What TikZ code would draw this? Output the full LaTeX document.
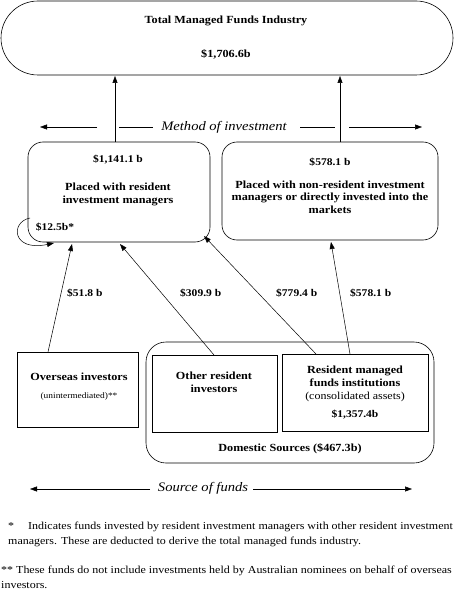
\documentclass[tikz,border=0pt]{standalone}
\usepackage{fontspec}
\setmainfont{Liberation Serif}[FakeStretch=1.12]
\usetikzlibrary{arrows.meta}
\begin{document}
\begin{tikzpicture}[x=1pt,y=-1pt,
  box/.style={draw,line width=0.6pt},
  conn/.style={line width=0.5pt,-{Triangle[length=7pt,width=5pt]}},
  lbl/.style={font=\bfseries\fontsize{10.9}{13}\selectfont,inner sep=0pt},
  num/.style={font=\bfseries\fontsize{10.3}{12}\selectfont,inner sep=0pt},
  txt/.style={font=\fontsize{10.7}{12}\selectfont,inner sep=0pt},
  itl/.style={font=\itshape\fontsize{13}{15}\selectfont,inner sep=0pt}]
\useasboundingbox (0,0) rectangle (454,591);
\clip (0,0) rectangle (454,591);
\fill[white] (0,0) rectangle (454,591);
% top
\draw[box,rounded corners=37] (1,1) rectangle (453,75);
\node[lbl] (toptitle) at (226,21) {Total Managed Funds Industry};
\node[lbl] (topval) at (226,54) {\$1,706.6b};
\coordinate (topL) at (115,76);
\coordinate (topR) at (340,76);
% left box
\draw[box,rounded corners=15] (28,142) rectangle (210,242);
\coordinate (Ltop) at (115,142);
\node[num] (lval) at (118,160) {\$1,141.1 b};
\node[lbl,align=center] (ltext) at (118,194) {Placed with resident\\investment managers};
\node[num] (l125) at (55,227) {\$12.5b*};
% right box
\draw[box,rounded corners=15] (222,142) rectangle (438,240);
\coordinate (Rtop) at (340,142);
\node[num] (rval) at (330,162) {\$578.1 b};
\node[lbl,align=center,font=\bfseries\fontsize{10.9}{12.5}\selectfont] (rtext) at (330,197) {Placed with non-resident investment\\managers or directly invested into the\\markets};
% method arrows
\draw[conn] (Ltop) -- (topL);
\draw[conn] (Rtop) -- (topR);
\node[itl] (method) at (224,127) {Method of investment};
\coordinate (m1) at (97,127);
\coordinate (m0) at (40,127);
\coordinate (m2) at (119,127);
\coordinate (m3) at (153,127);
\coordinate (m4) at (300,127);
\coordinate (m5) at (335,127);
\coordinate (m6) at (349,127);
\coordinate (m7) at (422,127);
\draw[conn] (m1) -- (m0);
\draw[line width=0.5pt] (m2) -- (m3);
\draw[line width=0.5pt] (m4) -- (m5);
\draw[conn] (m6) -- (m7);
% loop
\coordinate (loopS) at (30,218);
\coordinate (loopE) at (54,243);
\draw[conn] (loopS) .. controls (10,222) and (12,252) .. (loopE);
% overseas
\draw[box] (17,352) rectangle (138,427);
\node[lbl] (over) at (79,377) {Overseas investors};
\node[txt,font=\fontsize{8.4}{10}\selectfont] (unint) at (79,396) {(unintermediated)**};
% domestic
\draw[box,rounded corners=20] (146,342) rectangle (434,463);
\node[lbl] (dom) at (290,449) {Domestic Sources (\$467.3b)};
\draw[box] (152,355) rectangle (277,432);
\node[lbl,align=center] (other) at (214,382) {Other resident\\investors};
\draw[box] (282,354) rectangle (428,431);
\node[lbl,align=center] (resm) at (355,376) {Resident managed\\funds institutions};
\node[txt] (cons) at (355,397) {(consolidated assets)};
\node[num] (resv) at (355,415) {\$1,357.4b};
% flows
\coordinate (o1) at (48,352);
\coordinate (o2) at (72,244);
\coordinate (p1) at (214,355);
\coordinate (p2) at (120,244);
\coordinate (q1) at (316,354);
\coordinate (q2) at (204,236);
\coordinate (r1) at (350,354);
\coordinate (r2) at (331,242);
\draw[conn] (o1) -- (o2);
\draw[conn] (p1) -- (p2);
\draw[conn] (q1) -- (q2);
\draw[conn] (r1) -- (r2);
\node[num,anchor=west] (f1) at (67,293) {\$51.8 b};
\node[num,anchor=west] (f2) at (180,293) {\$309.9 b};
\node[num,anchor=west] (f3) at (276,293) {\$779.4 b};
\node[num,anchor=west] (f4) at (350,293) {\$578.1 b};
% source of funds
\node[itl] (source) at (203,488) {Source of funds};
\coordinate (s1) at (150,489);
\coordinate (s0) at (30,489);
\coordinate (s2) at (253,489);
\coordinate (s3) at (412,489);
\draw[conn] (s1) -- (s0);
\draw[conn] (s2) -- (s3);
% footnotes
\node[txt,anchor=west] (fn1) at (8,527) {*\hspace{14pt}Indicates funds invested by resident investment managers with other resident investment};
\node[txt,anchor=west] (fn1b) at (8,542) {managers. These are deducted to derive the total managed funds industry.};
\node[txt,anchor=west] (fn2) at (1,571) {** These funds do not include investments held by Australian nominees on behalf of overseas};
\node[txt,anchor=west] (fn2b) at (1,585) {investors.};
\end{tikzpicture}
\end{document}
